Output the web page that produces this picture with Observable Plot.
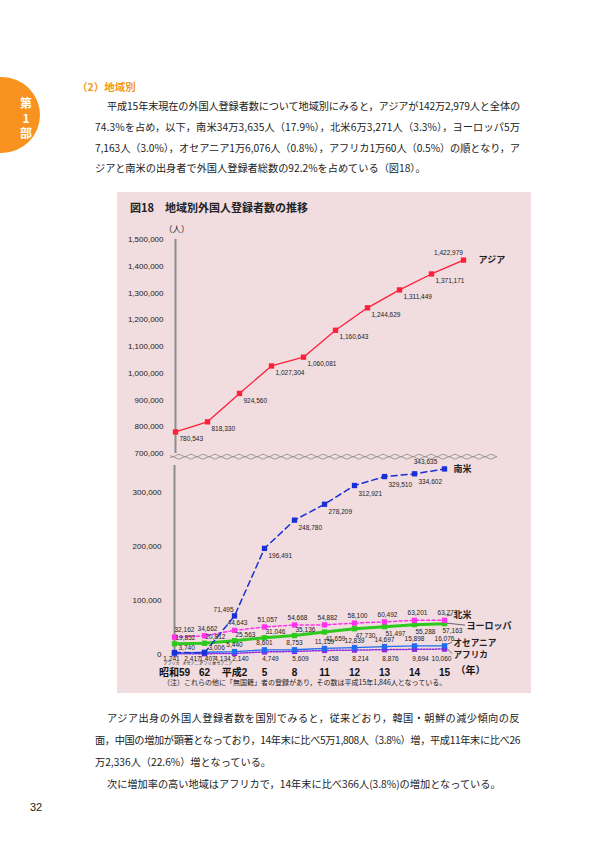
<!DOCTYPE html>
<html><head><meta charset="utf-8">
<script src="https://cdn.jsdelivr.net/npm/d3@7"></script>
<script src="https://cdn.jsdelivr.net/npm/@observablehq/plot@0.6"></script>
<style>
html,body{margin:0;padding:0}
body{width:612px;height:858px;position:relative;background:#fff;overflow:hidden;font-family:"Noto Sans CJK JP",sans-serif;color:#222}
.abs{position:absolute}
.tl{position:absolute;font-size:10.2px;line-height:14px;color:#222;white-space:nowrap}
#tab{position:absolute;left:-36px;top:77px;width:76px;height:76px;border-radius:50%;background:#f7931e}
.tabc{position:absolute;left:18px;width:16px;text-align:center;color:#fff;font-weight:bold;font-size:12px;line-height:14px}
#panel{position:absolute;left:117px;top:192px;width:414px;height:501px;background:#f1dcdf}
#panel svg{position:absolute;left:0}
</style></head><body>
<div id="tab"></div>
<div class="tabc" style="top:96px">第</div>
<div class="tabc" style="top:111px">1</div>
<div class="tabc" style="top:126px">部</div>
<div class="abs" style="left:77px;top:80px;font-size:10.5px;color:#f29a12;font-weight:bold;line-height:14px">（2）地域別</div>
<div class="tl j" data-w="413" style="left:107px;top:99px">平成15年末現在の外国人登録者数について地域別にみると，アジアが142万2,979人と全体の</div>
<div class="tl j" data-w="425" style="left:95px;top:120px">74.3%を占め，以下，南米34万3,635人（17.9%），北米6万3,271人（3.3%），ヨーロッパ5万</div>
<div class="tl j" data-w="425" style="left:95px;top:141px">7,163人（3.0%），オセアニア1万6,076人（0.8%），アフリカ1万60人（0.5%）の順となり，ア</div>
<div class="tl" style="left:95px;top:161px">ジアと南米の出身者で外国人登録者総数の92.2%を占めている（図18）。</div>

<div id="panel">
  <div class="abs" style="left:13px;top:8px;font-size:11px;font-weight:bold;line-height:14px">図18　地域別外国人登録者数の推移</div>
  <div class="abs" style="left:47px;top:31px;font-size:8.5px;line-height:11px">（人）</div>
  <div class="abs" style="left:46px;top:486px;font-size:7px;line-height:9px;white-space:nowrap">（注）これらの他に「無国籍」者の登録があり，その数は平成15年1,846人となっている。</div>
</div>

<div class="tl j" data-w="413" style="left:107px;top:711px">アジア出身の外国人登録者数を国別でみると，従来どおり，韓国・朝鮮の減少傾向の反</div>
<div class="tl j" data-w="425" style="left:95px;top:733px">面，中国の増加が顕著となっており，14年末に比べ5万1,808人（3.8%）増，平成11年末に比べ26</div>
<div class="tl" style="left:95px;top:755px">万2,336人（22.6%）増となっている。</div>
<div class="tl" style="left:107px;top:777px">次に増加率の高い地域はアフリカで，14年末に比べ366人(3.8%)の増加となっている。</div>
<div class="abs" style="left:30px;top:801px;font-size:11px;font-family:'Liberation Sans',sans-serif">32</div>

<script>
// ---- data ----
const years = ["昭和59", "62", "平成2", "5", "8", "11", "12", "13", "14", "15"];
const asia = [780543, 818330, 924560, 1027304, 1060081, 1160643, 1244629, 1311449, 1371171, 1422979];
const southAmerica = [3740, 3006, 71495, 196491, 248780, 278209, 312921, 329510, 334602, 343635];
const northAmerica = [32162, 34662, 44643, 51057, 54668, 54882, 58100, 60492, 63201, 63271];
const europe = [19852, 20812, 25563, 31046, 35136, 41659, 47730, 51497, 55288, 57163];
const oceania = [2417, 4134, 5440, 8601, 8753, 11159, 12839, 14697, 15898, 16076];
const africa = [1241, 1407, 2140, 4749, 5609, 7458, 8214, 8876, 9694, 10060];
const upperTicks = [700000, 800000, 900000, 1000000, 1100000, 1200000, 1300000, 1400000, 1500000];
const lowerTicks = [0, 100000, 200000, 300000];
const seriesNames = {asia: "アジア", sa: "南米", na: "北米", eu: "ヨーロッパ", oc: "オセアニア", af: "アフリカ"};

// justify the body text lines to their column width
document.querySelectorAll(".j").forEach(el => {
  const W = +el.dataset.w;
  const w = el.getBoundingClientRect().width;
  const n = el.textContent.length;
  el.style.letterSpacing = ((W - w) / n) + "px";
});

// ---- chart ----
const fmt = d3.format(",");
const FONT = '"Liberation Sans","Noto Sans CJK JP",sans-serif';
const rows = arr => years.map((year, i) => ({year, i, value: arr[i]}));
const A = rows(asia), SA = rows(southAmerica), NA = rows(northAmerica),
      EU = rows(europe), OC = rows(oceania), AF = rows(africa);
const C = {red: "#ff1f36", sa: "#1a2fd6", na: "#ff33ee", eu: "#2ec91e", oc: "#1f6cf0", af: "#8a2be2", axis: "#8c8c8c"};
const lbl = {fontSize: 6.5, fill: "#222"};
const panel = document.getElementById("panel");

const up = Plot.plot({
  width: 414, height: 240,
  marginLeft: 56, marginRight: 66, marginTop: 14, marginBottom: 12,
  style: {background: "none", fontFamily: FONT, color: "#222", overflow: "visible"},
  x: {type: "point", domain: years, padding: 0, axis: null},
  y: {domain: [700000, 1500000]},
  marks: [
    Plot.axisY({ticks: upperTicks, tickFormat: fmt, tickSize: 0, tickPadding: 10, fontSize: 8, label: null}),
    Plot.ruleX([years[0]], {y1: 700000, y2: 1500000, stroke: C.axis, strokeWidth: 2}),
    Plot.line(A, {x: "year", y: "value", stroke: C.red, strokeWidth: 1.3}),
    Plot.dot(A, {x: "year", y: "value", symbol: "square", r: 3, fill: C.red}),
    Plot.text(A, {filter: d => d.i < 9, x: "year", y: "value", text: d => fmt(d.value), textAnchor: "start", dx: 4, dy: 7, ...lbl}),
    Plot.text(A, {filter: d => d.i === 9, x: "year", y: "value", text: d => fmt(d.value), dx: -15, dy: -7, ...lbl}),
    Plot.text(A, {filter: d => d.i === 9, x: "year", y: "value", text: () => seriesNames.asia, textAnchor: "start", dx: 15, fontSize: 9, fontWeight: "bold"})
  ]
});
up.style.top = "33px";
panel.appendChild(up);

const lo = Plot.plot({
  width: 414, height: 232,
  marginLeft: 54, marginRight: 85, marginTop: 7, marginBottom: 36,
  style: {background: "none", fontFamily: FONT, color: "#222", overflow: "visible"},
  x: {type: "point", domain: years, padding: 0},
  y: {domain: [0, 350000]},
  marks: [
    Plot.axisY({ticks: lowerTicks, tickFormat: fmt, tickSize: 0, tickPadding: 10, fontSize: 8, label: null}),
    Plot.axisX({tickSize: 0, tickPadding: 14, fontSize: 10, fontWeight: "bold", label: null, fill: "#111"}),
    Plot.text(["（年）"], {frameAnchor: "bottom-right", dx: 9, dy: 19, textAnchor: "start", fontSize: 10, fontWeight: "bold", fill: "#111"}),
    Plot.ruleX([years[0]], {y1: 0, y2: 350000, stroke: C.axis, strokeWidth: 2}),
    // Africa
    Plot.line(AF, {x: "year", y: "value", stroke: C.af, strokeWidth: 1.5, strokeDasharray: "1.5,1.5"}),
    Plot.dot(AF, {x: "year", y: "value", symbol: "square", r: 3, fill: C.af}),
    // Oceania
    Plot.line(OC, {x: "year", y: "value", stroke: C.oc, strokeWidth: 1.3}),
    Plot.dot(OC, {x: "year", y: "value", symbol: "square", r: 3, fill: C.oc}),
    // Europe
    Plot.line(EU, {x: "year", y: "value", stroke: C.eu, strokeWidth: 3}),
    Plot.dot(EU, {x: "year", y: "value", symbol: "square", r: 3, fill: C.eu}),
    // North America
    Plot.line(NA, {x: "year", y: "value", stroke: C.na, strokeWidth: 1.5, strokeDasharray: "3,2.5"}),
    Plot.dot(NA, {x: "year", y: "value", symbol: "square", r: 3, fill: C.na}),
    // South America
    Plot.line(SA, {x: "year", y: "value", stroke: C.sa, strokeWidth: 1.5, strokeDasharray: "6,4"}),
    Plot.dot(SA, {x: "year", y: "value", symbol: "square", r: 3, fill: C.sa}),
    // value labels: South America
    Plot.text(SA, {filter: d => d.i < 2, x: "year", y: "value", text: d => fmt(d.value), textAnchor: "start", dx: 4, dy: -5, ...lbl}),
    Plot.text(SA, {filter: d => d.i === 2, x: "year", y: "value", text: d => fmt(d.value), textAnchor: "end", dx: -1, dy: -6, ...lbl}),
    Plot.text(SA, {filter: d => d.i > 2 && d.i < 9, x: "year", y: "value", text: d => fmt(d.value), textAnchor: "start", dx: 4, dy: 8, ...lbl}),
    Plot.text(SA, {filter: d => d.i === 9, x: "year", y: "value", text: d => fmt(d.value), dx: -19, dy: -7, ...lbl}),
    // North America
    Plot.text(NA, {filter: d => d.i === 0, x: "year", y: "value", text: d => fmt(d.value), textAnchor: "start", dy: -7, ...lbl}),
    Plot.text(NA, {filter: d => d.i > 0, x: "year", y: "value", text: d => fmt(d.value), dx: 3, dy: -7, ...lbl}),
    // Europe
    Plot.text(EU, {filter: d => d.i < 5, x: "year", y: "value", text: d => fmt(d.value), textAnchor: "start", dx: 1, dy: -6, ...lbl}),
    Plot.text(EU, {filter: d => d.i >= 5 && d.i < 9, x: "year", y: "value", text: d => fmt(d.value), textAnchor: "start", dx: 1, dy: 7, ...lbl}),
    Plot.text(EU, {filter: d => d.i === 9, x: "year", y: "value", text: d => fmt(d.value), textAnchor: "start", dx: -2, dy: 7, ...lbl}),
    // Oceania
    Plot.text(OC, {filter: d => d.i >= 2, x: "year", y: "value", text: d => fmt(d.value), dy: -7, ...lbl}),
    Plot.text(OC, {filter: d => d.i < 2, x: "year", y: () => 0, text: d => fmt(d.value), dx: 18, dy: 4, ...lbl}),
    Plot.text(OC, {filter: d => d.i < 2, x: "year", y: () => 0, text: () => seriesNames.oc, dx: 18, dy: 9.5, fontSize: 4, fill: "#222"}),
    // Africa
    Plot.text(AF, {filter: d => d.i === 0, x: "year", y: () => 0, text: d => fmt(d.value), dx: -3, dy: 4, ...lbl}),
    Plot.text(AF, {filter: d => d.i === 1, x: "year", y: () => 0, text: d => fmt(d.value), dx: 3, dy: 4, ...lbl}),
    Plot.text(AF, {filter: d => d.i >= 2 && d.i < 9, x: "year", y: () => 0, text: d => fmt(d.value), dx: 6, dy: 4, ...lbl}),
    Plot.text(AF, {filter: d => d.i === 9, x: "year", y: () => 0, text: d => fmt(d.value), dx: -3, dy: 4, ...lbl}),
    Plot.text(AF, {filter: d => d.i === 0, x: "year", y: () => 0, text: () => seriesNames.af, dx: -3, dy: 9.5, fontSize: 4, fill: "#222"}),
    Plot.text(AF, {filter: d => d.i === 1, x: "year", y: () => 0, text: () => seriesNames.af, dx: 3, dy: 9.5, fontSize: 4, fill: "#222"}),
    // series names
    Plot.text(SA, {filter: d => d.i === 9, x: "year", y: "value", text: () => seriesNames.sa, textAnchor: "start", dx: 9, fontSize: 9, fontWeight: "bold"}),
    Plot.text(NA, {filter: d => d.i === 9, x: "year", y: "value", text: () => seriesNames.na, textAnchor: "start", dx: 9, dy: -5, fontSize: 9, fontWeight: "bold"}),
    Plot.text(EU, {filter: d => d.i === 9, x: "year", y: "value", text: () => seriesNames.eu, textAnchor: "start", dx: 22, dy: 2, fontSize: 9, fontWeight: "bold"}),
    Plot.text(OC, {filter: d => d.i === 9, x: "year", y: "value", text: () => seriesNames.oc, textAnchor: "start", dx: 9, dy: -3, fontSize: 8.6, fontWeight: "bold"}),
    Plot.text(AF, {filter: d => d.i === 9, x: "year", y: "value", text: () => seriesNames.af, textAnchor: "start", dx: 9, dy: 6, fontSize: 8.6, fontWeight: "bold"})
  ]
});
lo.style.top = "266px";
panel.appendChild(lo);

// leader lines, placed with the plot's own scales
{
  const xs = lo.scale("x"), ys = lo.scale("y");
  const xe = xs.apply(years[9]);
  const svg = d3.select(lo);
  const g = svg.append("g").attr("stroke", "#333").attr("stroke-width", 0.7).attr("fill", "none");
  const seg = (x1, y1, x2, y2) => g.append("line").attr("x1", x1).attr("y1", y1).attr("x2", x2).attr("y2", y2);
  const yNA = ys.apply(northAmerica[9]), yEU = ys.apply(europe[9]), yOC = ys.apply(oceania[9]), yAF = ys.apply(africa[9]);
  seg(xe + 3, yNA - 4, xe + 8, yNA - 5);
  seg(xe + 3, yEU, xe + 21, yEU + 2);
  seg(xe + 3, yOC - 1, xe + 8, yOC - 3);
  seg(xe + 3, yAF, xe + 8, yAF + 5);
}
// axis break (decorative double wavy line), anchored to the upper plot's y scale
{
  const ys = up.scale("y");
  const y0 = ys.apply(700000) + 2.5;
  const svg = d3.select(up);
  for (const [off, ph] of [[0, 0], [2.4, Math.PI]]) {
    const pts = d3.range(53, 381, 1).map(x => [x, y0 + off + 1.1 * Math.sin((x - 53) / 12 * 2 * Math.PI + ph)]);
    svg.append("path").attr("d", d3.line()(pts)).attr("fill", "none").attr("stroke", "#8a8a8a").attr("stroke-width", 0.8);
  }
}
</script>
</body></html>
